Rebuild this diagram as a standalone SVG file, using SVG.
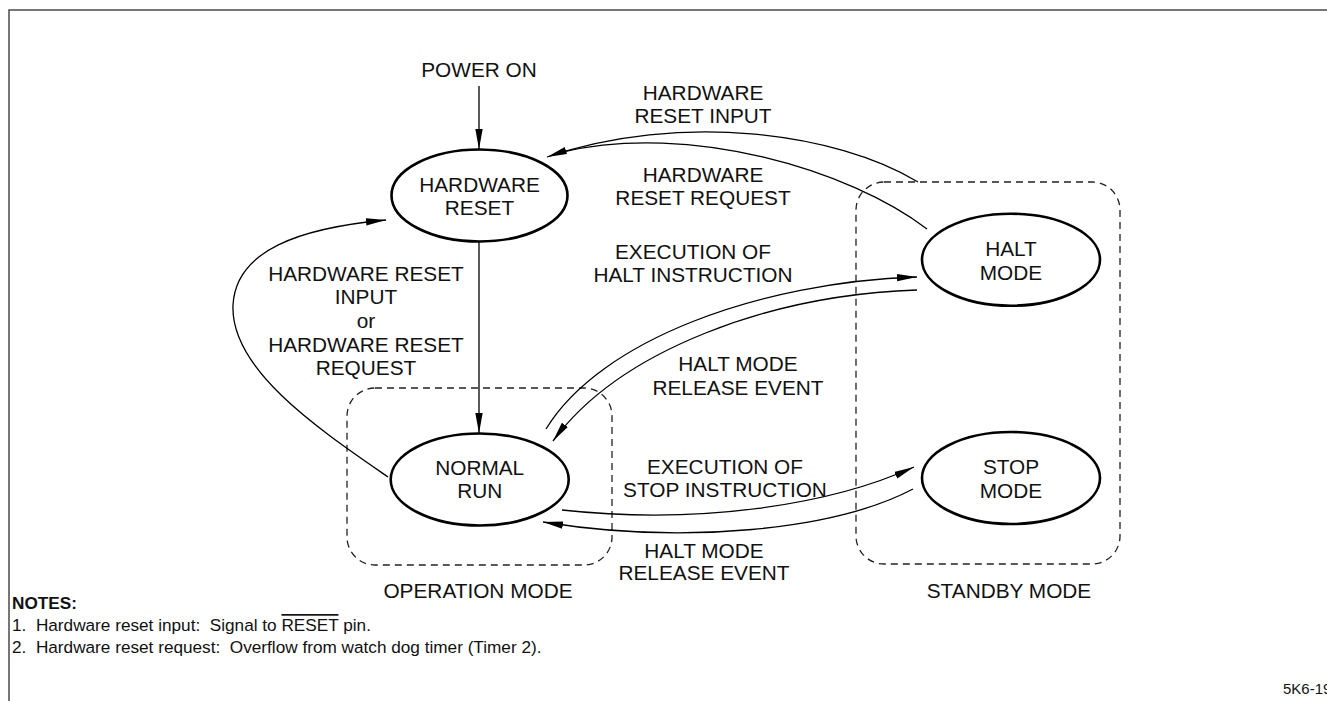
<svg xmlns="http://www.w3.org/2000/svg" width="1327" height="701" viewBox="0 0 1327 701">
<defs>
<style>
text{font-family:"Liberation Sans",Arial,sans-serif;fill:#111}
.lbl{font-size:20.8px;text-anchor:middle}
.node{fill:none;stroke:#000;stroke-width:2.6}
.conn{fill:none;stroke:#000;stroke-width:1.3}
.grp{fill:none;stroke:#222;stroke-width:1.3;stroke-dasharray:7 5}
.note{font-size:17.2px;white-space:pre}
</style>
<marker id="ah" markerUnits="userSpaceOnUse" markerWidth="22" markerHeight="10" refX="20" refY="3.7" orient="auto">
<path d="M0,0 L20,3.7 L0,7.4 Z" fill="#000"/>
</marker>
</defs>
<rect width="1327" height="701" fill="#fff"/>
<rect x="9" y="10" width="1340" height="720" fill="none" stroke="#555" stroke-width="1.6"/>

<g id="groups">
<rect id="operation-mode" class="grp" x="347" y="388" width="265" height="177" rx="28"/>
<rect id="standby-mode" class="grp" x="856" y="182" width="264" height="382" rx="28"/>
<text class="lbl" x="478" y="598">OPERATION MODE</text>
<text class="lbl" x="1009" y="598">STANDBY MODE</text>
</g>

<g id="connectors">
<path class="conn" d="M479,86 L479,149" marker-end="url(#ah)"/>
<path class="conn" d="M479,242 L479,433" marker-end="url(#ah)"/>
<path class="conn" d="M918,182 C835,132 680,112 547,157" marker-end="url(#ah)"/>
<path class="conn" d="M927,229 C850,170 690,122 562,152"/>
<path class="conn" d="M388,477 C320,430 230,370 233,305 C236,250 300,228 386,220" marker-end="url(#ah)"/>
<path class="conn" d="M546,429 C600,340 760,282 917,277" marker-end="url(#ah)"/>
<path class="conn" d="M917,290 C770,295 620,350 553,441" marker-end="url(#ah)"/>
<path class="conn" d="M562,510 C700,525 830,505 914,467" marker-end="url(#ah)"/>
<path class="conn" d="M913,489 C835,530 685,545 543,522" marker-end="url(#ah)"/>
</g>

<g id="edge-labels">
<text class="lbl" x="479" y="77">POWER ON</text>
<text class="lbl" x="703" y="100">HARDWARE</text>
<text class="lbl" x="703" y="123">RESET INPUT</text>
<text class="lbl" x="703" y="182">HARDWARE</text>
<text class="lbl" x="703" y="205">RESET REQUEST</text>
<text class="lbl" x="693" y="259">EXECUTION OF</text>
<text class="lbl" x="693" y="282">HALT INSTRUCTION</text>
<text class="lbl" x="366" y="281">HARDWARE RESET</text>
<text class="lbl" x="366" y="304">INPUT</text>
<text class="lbl" x="366" y="328">or</text>
<text class="lbl" x="366" y="352">HARDWARE RESET</text>
<text class="lbl" x="366" y="375">REQUEST</text>
<text class="lbl" x="738" y="371">HALT MODE</text>
<text class="lbl" x="738" y="395">RELEASE EVENT</text>
<text class="lbl" x="725" y="474">EXECUTION OF</text>
<text class="lbl" x="725" y="497">STOP INSTRUCTION</text>
<text class="lbl" x="704" y="558">HALT MODE</text>
<text class="lbl" x="704" y="580">RELEASE EVENT</text>
</g>

<g id="hardware-reset">
<ellipse class="node" cx="479.5" cy="195.5" rx="88" ry="46"/>
<text class="lbl" x="479.5" y="191.5">HARDWARE</text>
<text class="lbl" x="479.5" y="215">RESET</text>
</g>
<g id="normal-run">
<ellipse class="node" cx="479.7" cy="479.5" rx="89" ry="46"/>
<text class="lbl" x="479.7" y="475">NORMAL</text>
<text class="lbl" x="479.7" y="498">RUN</text>
</g>
<g id="halt-mode">
<ellipse class="node" cx="1011" cy="259.7" rx="89" ry="46"/>
<text class="lbl" x="1011" y="256">HALT</text>
<text class="lbl" x="1011" y="279.5">MODE</text>
</g>
<g id="stop-mode">
<ellipse class="node" cx="1011" cy="478" rx="89" ry="46"/>
<text class="lbl" x="1011" y="474">STOP</text>
<text class="lbl" x="1011" y="498">MODE</text>
</g>

<g id="notes">
<text class="note" x="12" y="609" font-weight="bold">NOTES:</text>
<text class="note" x="12" y="631">1.  Hardware reset input:  Signal to <tspan style="text-decoration:overline">RESET</tspan> pin.</text>
<text class="note" x="12" y="653">2.  Hardware reset request:  Overflow from watch dog timer (Timer 2).</text>
<text x="1283" y="694" font-size="15px">5K6-19</text>
</g>
</svg>
